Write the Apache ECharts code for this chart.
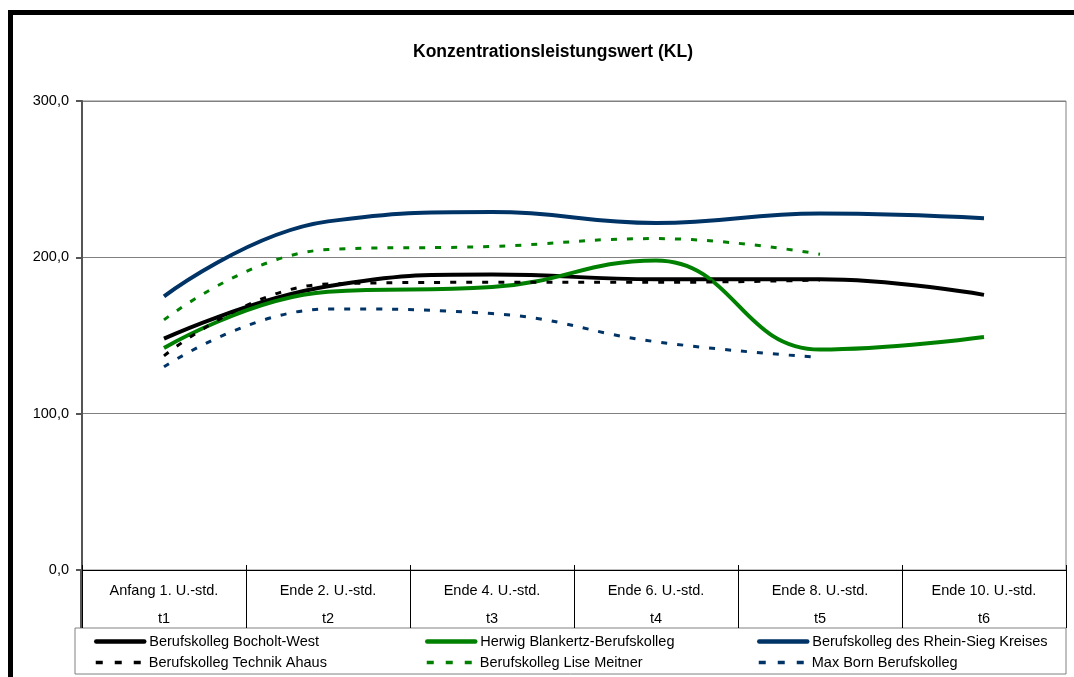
<!DOCTYPE html>
<html>
<head>
<meta charset="utf-8">
<script src="https://cdn.jsdelivr.net/npm/echarts@6/dist/echarts.min.js"></script>
<style>
  html, body { margin: 0; padding: 0; background: #fff; }
  #frame { position: absolute; left: 8px; top: 10px; width: 1100px; height: 700px;
           border-top: 5px solid #000; border-left: 5px solid #000; }
  #chart { position: absolute; left: 0; top: 0; width: 1074px; height: 677px; }
</style>
</head>
<body>
<div id="frame"></div>
<div id="chart"></div>
<script>
// Zeitpunkte (zweizeilige Achsenbeschriftung)
var phases = ['Anfang 1. U.-std.', 'Ende 2. U.-std.', 'Ende 4. U.-std.', 'Ende 6. U.-std.', 'Ende 8. U.-std.', 'Ende 10. U.-std.']
var times = ['t1', 't2', 't3', 't4', 't5', 't6']
var yTicks = [0, 100, 200, 300]

// KL-Werte je Schule
var bocholtWest = [148, 181.5, 189, 186, 186, 176]
var herwigBlankertz = [142, 178, 181, 198, 141, 149]
var rheinSieg = [175, 223, 229, 222, 228, 225]
var technikAhaus = [137, 183, 184, 184, 185.5, null]
var liseMeitner = [160, 205, 207, 212, 202, null]
var maxBorn = [130, 167, 164, 146, 136, null]

var font = 'Liberation Sans, Arial, sans-serif'
var chart = echarts.init(document.getElementById('chart'))

function legendAt(name, left, top, dashed) {
  return {
    data: [name],
    left: left,
    top: top,
    padding: 0,
    itemWidth: 48,
    itemHeight: 14,
    selectedMode: false,
    itemStyle: { opacity: 0 },
    lineStyle: dashed ? { width: 3.5, type: [7, 12] } : { width: 4.5, type: 'solid', cap: 'round' },
    textStyle: { fontFamily: font, fontSize: 14.5, color: '#000' }
  }
}

function lineSeries(name, data, color, dashed) {
  return {
    name: name,
    type: 'line',
    data: data,
    smooth: 0.45,
    symbol: 'none',
    connectNulls: false,
    lineStyle: {
      color: color,
      width: dashed ? 3 : 4,
      type: dashed ? [6, 10] : 'solid'
    },
    itemStyle: { color: color }
  }
}

chart.setOption({
  animation: false,
  title: {
    text: 'Konzentrationsleistungswert (KL)',
    left: 548,
    top: 38,
    textAlign: 'center',
    textStyle: { fontFamily: font, fontSize: 17.5, fontWeight: 'bold', color: '#000' }
  },
  graphic: [
    {
      type: 'rect',
      shape: { x: 75, y: 628, width: 991, height: 46 },
      style: { fill: 'none', stroke: '#808080', lineWidth: 1 }
    },
    {
      type: 'line',
      shape: { x1: 81, y1: 570, x2: 81, y2: 628 },
      style: { stroke: '#555', lineWidth: 2 }
    }
  ],
  legend: [
    legendAt('Berufskolleg Bocholt-West', 94, 634, false),
    legendAt('Herwig Blankertz-Berufskolleg', 425, 634, false),
    legendAt('Berufskolleg des Rhein-Sieg Kreises', 757, 634, false),
    legendAt('Berufskolleg Technik Ahaus', 94, 655, true),
    legendAt('Berufskolleg Lise Meitner', 425, 655, true),
    legendAt('Max Born Berufskolleg', 757, 655, true)
  ],
  grid: {
    left: 82,
    right: 8,
    top: 101,
    bottom: 107,
    show: true,
    borderColor: '#808080',
    borderWidth: 1
  },
  xAxis: [
    {
      type: 'category',
      data: phases,
      boundaryGap: true,
      axisLine: { lineStyle: { color: '#000', width: 1 } },
      axisTick: { show: true, interval: 0, length: 58, lineStyle: { color: '#000' } },
      axisLabel: {
        interval: 0,
        margin: 7,
        fontFamily: font,
        fontSize: 14.5,
        color: '#000',
        lineHeight: 28,
        formatter: function (v, i) { return v + '\n' + times[i] }
      }
    },
    {
      type: 'category',
      data: phases,
      position: 'bottom',
      boundaryGap: true,
      axisLine: { show: false },
      axisTick: { show: true, inside: true, interval: 0, length: 5, lineStyle: { color: '#000' } },
      axisLabel: { show: false }
    }
  ],
  yAxis: {
    type: 'value',
    min: yTicks[0],
    max: yTicks[yTicks.length - 1],
    interval: 100,
    axisLine: { show: true, lineStyle: { color: '#555', width: 2 } },
    axisTick: { show: true, length: 6, lineStyle: { color: '#555', width: 2 } },
    splitLine: { show: true, lineStyle: { color: '#808080', width: 1 } },
    axisLabel: {
      margin: 13,
      fontFamily: font,
      fontSize: 14.5,
      color: '#000',
      formatter: function (v) { return v.toFixed(1).replace('.', ',') }
    }
  },
  series: [
    lineSeries('Berufskolleg Bocholt-West', bocholtWest, '#000000', false),
    lineSeries('Herwig Blankertz-Berufskolleg', herwigBlankertz, '#008000', false),
    lineSeries('Berufskolleg des Rhein-Sieg Kreises', rheinSieg, '#003366', false),
    lineSeries('Berufskolleg Technik Ahaus', technikAhaus, '#000000', true),
    lineSeries('Berufskolleg Lise Meitner', liseMeitner, '#008000', true),
    lineSeries('Max Born Berufskolleg', maxBorn, '#003366', true)
  ]
})
</script>
</body>
</html>
